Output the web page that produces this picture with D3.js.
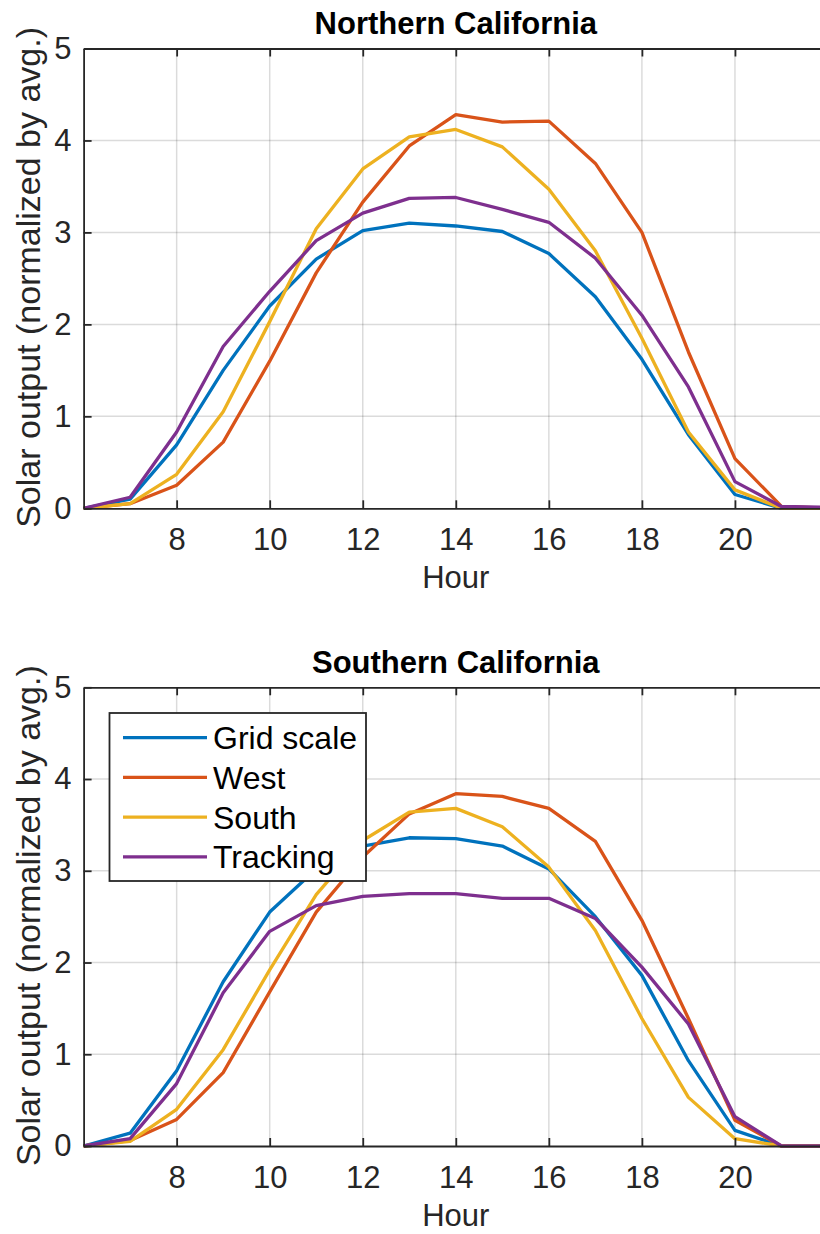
<!DOCTYPE html>
<html>
<head>
<meta charset="utf-8">
<script src="https://cdn.jsdelivr.net/npm/d3@7"></script>
<style>
  html, body { margin: 0; padding: 0; background: #fff; }
  svg { display: block; }
  text { font-family: "Liberation Sans", Arial, Helvetica, sans-serif; }
</style>
</head>
<body>
<script>
// ---- data ----
const hours = [6, 7, 8, 9, 10, 11, 12, 13, 14, 15, 16, 17, 18, 19, 20, 21, 22];
const seriesNames = ["Grid scale", "West", "South", "Tracking"];
const seriesColors = ["#0072BD", "#D95319", "#EDB120", "#7E2F8E"];

const northGrid     = [0, 0.10, 0.69, 1.50, 2.20, 2.71, 3.02, 3.10, 3.07, 3.01, 2.77, 2.30, 1.62, 0.80, 0.15, 0.00, 0.00];
const northWest     = [0, 0.05, 0.25, 0.72, 1.60, 2.56, 3.33, 3.94, 4.28, 4.20, 4.21, 3.75, 3.00, 1.70, 0.54, 0.02, 0.00];
const northSouth    = [0, 0.05, 0.37, 1.05, 2.03, 3.04, 3.69, 4.04, 4.12, 3.93, 3.47, 2.80, 1.85, 0.83, 0.20, 0.00, 0.00];
const northTracking = [0, 0.12, 0.83, 1.76, 2.36, 2.91, 3.21, 3.37, 3.38, 3.25, 3.11, 2.72, 2.10, 1.32, 0.29, 0.02, 0.01];

const southGrid     = [0, 0.14, 0.82, 1.79, 2.55, 3.02, 3.27, 3.36, 3.35, 3.27, 3.02, 2.50, 1.86, 0.93, 0.17, 0.00, 0.00];
const southWest     = [0, 0.06, 0.29, 0.80, 1.68, 2.55, 3.15, 3.62, 3.84, 3.81, 3.68, 3.32, 2.46, 1.39, 0.28, 0.00, 0.00];
const southSouth    = [0, 0.05, 0.40, 1.05, 1.92, 2.74, 3.33, 3.64, 3.68, 3.48, 3.04, 2.35, 1.39, 0.53, 0.08, 0.00, 0.00];
const southTracking = [0, 0.08, 0.68, 1.67, 2.34, 2.62, 2.72, 2.75, 2.75, 2.70, 2.70, 2.48, 1.95, 1.33, 0.32, 0.00, 0.00];

const xTicks = [8, 10, 12, 14, 16, 18, 20];
const yTicks = [0, 1, 2, 3, 4, 5];
const xDomain = [6, 22];
const yDomain = [0, 5];
const xLabel = "Hour";
const yLabel = "Solar output (normalized by avg.)";

const panels = [
  { title: "Northern California", series: [northGrid, northWest, northSouth, northTracking], top: 48.5, bottom: 508.3, legend: false },
  { title: "Southern California", series: [southGrid, southWest, southSouth, southTracking], top: 687.3, bottom: 1146, legend: true }
];

// ---- drawing ----
const W = 820, H = 1234;
const left = 83.6, right = 828;
const axisColor = "#262626";

const svg = d3.select("body").append("svg").attr("width", W).attr("height", H);

const x = d3.scaleLinear().domain(xDomain).range([left, right]);

panels.forEach(p => {
  const y = d3.scaleLinear().domain(yDomain).range([p.bottom, p.top]);
  const g = svg.append("g");

  // grid
  g.append("g").selectAll("line").data(xTicks).join("line")
    .attr("x1", d => x(d)).attr("x2", d => x(d))
    .attr("y1", p.top).attr("y2", p.bottom)
    .attr("stroke", "#000").attr("stroke-opacity", 0.14).attr("stroke-width", 1.5);
  g.append("g").selectAll("line").data(yTicks.filter(t => t > yDomain[0] && t < yDomain[1])).join("line")
    .attr("x1", left).attr("x2", right)
    .attr("y1", d => y(d)).attr("y2", d => y(d))
    .attr("stroke", "#000").attr("stroke-opacity", 0.14).attr("stroke-width", 1.5);

  // lines
  const line = d3.line().x((d, i) => x(hours[i])).y(d => y(d));
  p.series.forEach((s, k) => {
    g.append("path").datum(s)
      .attr("d", line)
      .attr("fill", "none")
      .attr("stroke", seriesColors[k])
      .attr("stroke-width", 3.3)
      .attr("stroke-linejoin", "round");
  });

  // axes
  const styleAxis = sel => {
    sel.selectAll(".domain").attr("stroke", axisColor).attr("stroke-width", 1.8);
    sel.selectAll(".tick line").attr("stroke", axisColor).attr("stroke-width", 1.8);
    sel.selectAll("text").attr("fill", axisColor).attr("font-size", 31)
      .attr("font-family", "'Liberation Sans', Arial, sans-serif");
  };
  g.append("g").attr("transform", `translate(0,${p.bottom})`)
    .call(d3.axisBottom(x).tickValues(xTicks).tickSize(-8).tickSizeOuter(0).tickPadding(20).tickFormat(d3.format("d")))
    .call(styleAxis);
  g.append("g").attr("transform", `translate(0,${p.top})`)
    .call(d3.axisTop(x).tickValues(xTicks).tickSize(-8).tickSizeOuter(0).tickFormat(""))
    .call(styleAxis);
  g.append("g").attr("transform", `translate(${left},0)`)
    .call(d3.axisLeft(y).tickValues(yTicks).tickSize(-8).tickSizeOuter(0).tickPadding(12).tickFormat(d3.format("d")))
    .call(styleAxis);
  g.append("g").attr("transform", `translate(${right},0)`)
    .call(d3.axisRight(y).tickValues(yTicks).tickSize(-8).tickSizeOuter(0).tickFormat(""))
    .call(styleAxis);

  // labels
  g.append("text")
    .attr("x", x((xDomain[0] + xDomain[1]) / 2)).attr("y", p.bottom + 80)
    .attr("text-anchor", "middle").attr("font-size", 31).attr("fill", axisColor)
    .text(xLabel);
  g.append("text")
    .attr("transform", `translate(40,${(p.top + p.bottom) / 2 - 1}) rotate(-90)`)
    .attr("text-anchor", "middle").attr("font-size", 34).attr("fill", axisColor)
    .text(yLabel);
  g.append("text")
    .attr("x", x((xDomain[0] + xDomain[1]) / 2)).attr("y", p.top - 14.5)
    .attr("text-anchor", "middle").attr("font-size", 31).attr("font-weight", "bold").attr("fill", "#000")
    .text(p.title);

  // legend
  if (p.legend) {
    const lg = g.append("g");
    lg.append("rect").attr("x", 109.5).attr("y", 713).attr("width", 256.5).attr("height", 168)
      .attr("fill", "#fff").attr("stroke", axisColor).attr("stroke-width", 1.8);
    seriesNames.forEach((name, k) => {
      const cy = 737.7 + k * 39.7;
      lg.append("line").attr("x1", 123).attr("x2", 207).attr("y1", cy).attr("y2", cy)
        .attr("stroke", seriesColors[k]).attr("stroke-width", 3.3);
      lg.append("text").attr("x", 213).attr("y", cy + 11.5)
        .attr("font-size", 32).attr("fill", "#000").text(name);
    });
  }
});
</script>
</body>
</html>
